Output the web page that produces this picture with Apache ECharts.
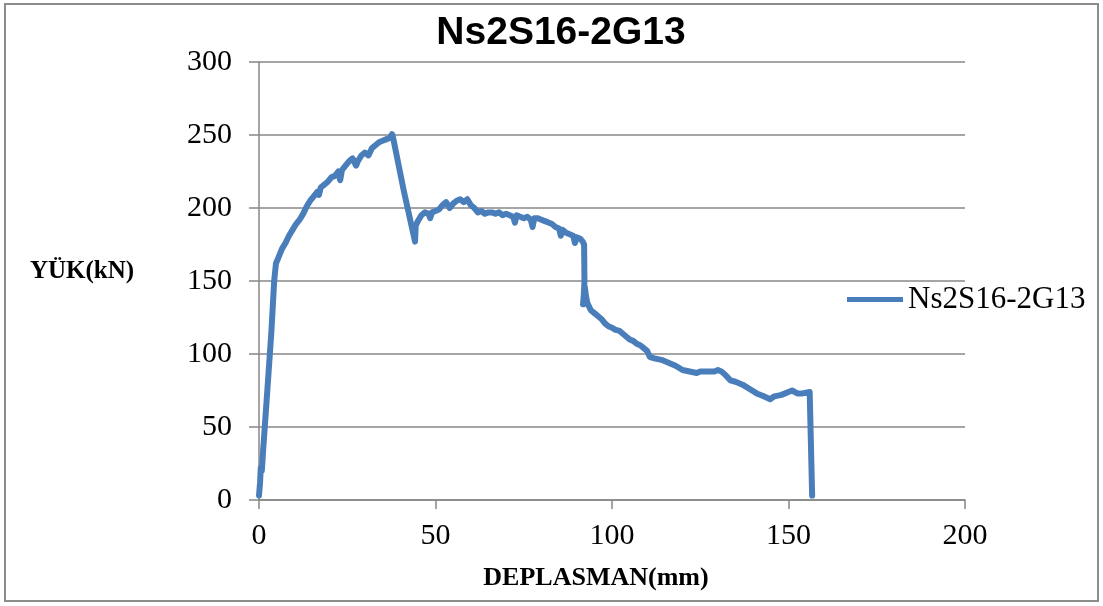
<!DOCTYPE html>
<html>
<head>
<meta charset="utf-8">
<script src="https://cdn.jsdelivr.net/npm/echarts@6/dist/echarts.min.js"></script>
<style>
html,body{margin:0;padding:0;background:#fff;}
#chart{width:1103px;height:606px;}
</style>
</head>
<body>
<div id="chart"></div>
<script>
const chartTitle = 'Ns2S16-2G13';
const seriesName = 'Ns2S16-2G13';
const xAxisName = 'DEPLASMAN(mm)';
const yAxisName = 'YÜK(kN)';
const xTicks = [0, 50, 100, 150, 200];
const yTicks = [0, 50, 100, 150, 200, 250, 300];

// displacement (mm)
const disp = [
  0, 0.3, 0.5, 0.8, 1.2, 2.5, 3.5, 4.3, 4.8, 5.5,
  6.5, 7.5, 8.5, 9.5, 10.5, 11.5, 12.5, 13, 13.5, 14.5,
  15.5, 16.5, 17, 17.5, 18.5, 19.5, 20.5, 21.5, 22.5, 23,
  23.5, 24.5, 25.5, 26.5, 27.5, 28, 29, 30, 31, 32,
  33, 34, 35, 36, 37, 37.7, 38, 41, 44.2, 44.4,
  45, 46, 47, 48, 48.5, 49, 50, 51, 52, 53,
  54, 55, 56, 57, 58, 59, 60, 61, 62, 63,
  64, 65, 66, 67, 68, 69, 70, 71, 72, 72.5,
  73, 74, 75, 76, 77, 77.5, 78, 79, 80, 81,
  82, 83, 84, 85, 85.5, 86, 87, 88, 89, 89.5,
  90, 91, 91.7, 92.1, 92.2, 92.0, 91.8, 92.3, 92.6, 93,
  94, 95, 96, 97, 98, 99, 100, 101, 102, 103,
  104, 105, 106, 107, 108, 109, 110, 110.7, 112, 114,
  116, 118, 120, 122, 124, 125, 127, 129, 130, 131,
  132, 133.5, 135, 137, 139, 141, 143, 144.8, 146, 148,
  150, 151, 152.5, 154, 156, 156.5, 156.7
];
// load (kN)
const load = [
  3, 12, 22, 20, 35, 80, 115, 150, 162, 166,
  172, 176, 181, 185, 189, 192, 196, 195, 201, 205,
  208, 211, 209, 214, 216, 218, 221, 222, 225, 219,
  226, 229, 232, 234, 229, 232, 236, 238, 236, 241,
  243, 245, 246, 247, 248, 250.5, 248, 212, 177, 188,
  191, 195, 197, 196, 193, 197, 198, 199, 202, 204,
  200, 203, 205, 206, 204, 206, 202, 200, 197, 198,
  196, 197, 197, 196, 197, 195, 196, 195, 194, 190,
  195, 194, 193, 194, 192, 187, 193, 193, 192, 191,
  190, 189, 187, 186, 181, 185, 183, 182, 181, 176,
  180, 179, 177, 175, 150, 140, 134, 146, 140, 135,
  130, 128, 126, 124, 121, 119, 118, 116.5, 116, 114,
  112, 110, 109, 107, 106, 104, 102, 98, 97, 96,
  94, 92, 89, 88, 87, 88, 88, 88, 89, 88,
  86, 82, 81, 79, 76, 73, 71, 69, 71, 72,
  74, 75, 73, 73, 74, 73, 3
];

const data = disp.map((d, i) => [d, load[i]]);
const gridColor = '#878787';
const lineColor = '#4a7ebb';

const chart = echarts.init(document.getElementById('chart'), null, {renderer: 'canvas'});
chart.setOption({
  animation: false,
  backgroundColor: '#ffffff',
  grid: {left: 259, right: 138, top: 62, bottom: 106, containLabel: false},
  legend: {
    data: [seriesName],
    left: 842, top: 279,
    itemWidth: 56, itemHeight: 5, itemGap: 4,
    icon: 'rect',
    textStyle: {fontFamily: 'Liberation Serif', fontSize: 31, color: '#000', padding: [0,0,0,0]}
  },
  xAxis: {
    type: 'value', min: xTicks[0], max: xTicks[xTicks.length - 1], interval: 50,
    axisLine: {show: true, lineStyle: {color: gridColor, width: 1.5}},
    axisTick: {show: true, inside: false, length: 9, lineStyle: {color: gridColor, width: 1.5}},
    splitLine: {show: false},
    axisLabel: {margin: 21, fontFamily: 'Liberation Serif', fontSize: 30, color: '#000'}
  },
  yAxis: {
    type: 'value', min: yTicks[0], max: yTicks[yTicks.length - 1], interval: 50,
    axisLine: {show: true, lineStyle: {color: gridColor, width: 1.5}},
    axisTick: {show: true, inside: false, length: 10, lineStyle: {color: gridColor, width: 1.5}},
    splitLine: {show: true, lineStyle: {color: gridColor, width: 1.5}},
    axisLabel: {margin: 27, fontFamily: 'Liberation Serif', fontSize: 30, color: '#000'}
  },
  graphic: [
    {type: 'rect', shape: {x: 5, y: 4, width: 1093, height: 597}, style: {fill: 'none', stroke: '#8c8c8c', lineWidth: 2}, silent: true, z: -10},
    {type: 'text', x: 561, y: 33, style: {text: chartTitle, font: 'bold 39px "Liberation Sans"', fill: '#000', textAlign: 'center', textVerticalAlign: 'middle'}},
    {type: 'text', x: 82, y: 272, style: {text: yAxisName, font: 'bold 25px "Liberation Serif"', fill: '#000', textAlign: 'center', textVerticalAlign: 'middle'}},
    {type: 'text', x: 596, y: 578, style: {text: xAxisName, font: 'bold 26px "Liberation Serif"', fill: '#000', textAlign: 'center', textVerticalAlign: 'middle'}}
  ],
  series: [{
    name: seriesName,
    type: 'line',
    data: data,
    showSymbol: false,
    symbol: 'none',
    itemStyle: {color: lineColor},
    lineStyle: {color: lineColor, width: 6, join: 'round', cap: 'round'}
  }]
});
</script>
</body>
</html>
